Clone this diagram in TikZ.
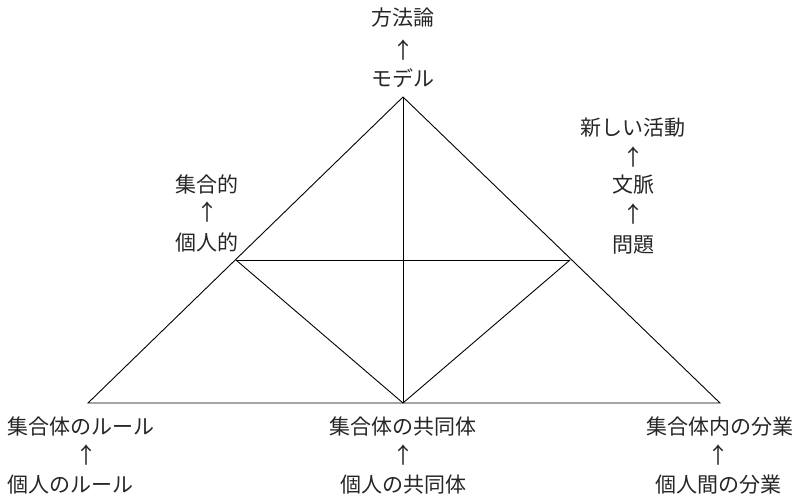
\documentclass[tikz,border=0pt]{standalone}
\usepackage{fontspec}
\newfontfamily\jp{Noto Sans CJK JP}
\begin{document}
\begin{tikzpicture}[x=1pt,y=-1pt,
  lbl/.style={font=\jp\fontsize{21}{24}\selectfont, text=black!85, inner sep=0pt, anchor=center},
  upar/.style={font=\jp\fontsize{22}{24}\selectfont, text=black!85, inner sep=0pt, anchor=center},
  edge/.style={draw=black, line width=0.9pt}]
\useasboundingbox (0,0) rectangle (803,500);
\coordinate (A) at (403,97);
\coordinate (B) at (88,403);
\coordinate (C) at (720,403);
\coordinate (L) at (236,260);
\coordinate (R) at (570,260);
\coordinate (M) at (403,403);
\draw[edge] (A) -- (B) -- (C) -- cycle;
\draw[edge] (A) -- (M);
\draw[edge] (L) -- (R);
\draw[edge] (L) -- (M) -- (R);
% top
\node[lbl] (t1) at (403,18) {方法論};
\node[upar] (t2) at (403,50) {↑};
\node[lbl] (t3) at (403,78) {モデル};
% right
\node[lbl] (r1) at (633,128) {新しい活動};
\node[upar] (r2) at (633,157) {↑};
\node[lbl] (r3) at (633,185) {文脈};
\node[upar] (r4) at (633,214) {↑};
\node[lbl] (r5) at (633,245) {問題};
% left
\node[lbl] (l1) at (207,184) {集合的};
\node[upar] (l2) at (207,212) {↑};
\node[lbl] (l3) at (207,242) {個人的};
% bottom
\node[lbl] (b1) at (81,427) {集合体のルール};
\node[upar] (b2) at (86,455) {↑};
\node[lbl] (b3) at (71,485) {個人のルール};
\node[lbl] (b4) at (403,427) {集合体の共同体};
\node[upar] (b5) at (403,455) {↑};
\node[lbl] (b6) at (403,485) {個人の共同体};
\node[lbl] (b7) at (720,427) {集合体内の分業};
\node[upar] (b8) at (718,455) {↑};
\node[lbl] (b9) at (718,485) {個人間の分業};
\end{tikzpicture}
\end{document}
